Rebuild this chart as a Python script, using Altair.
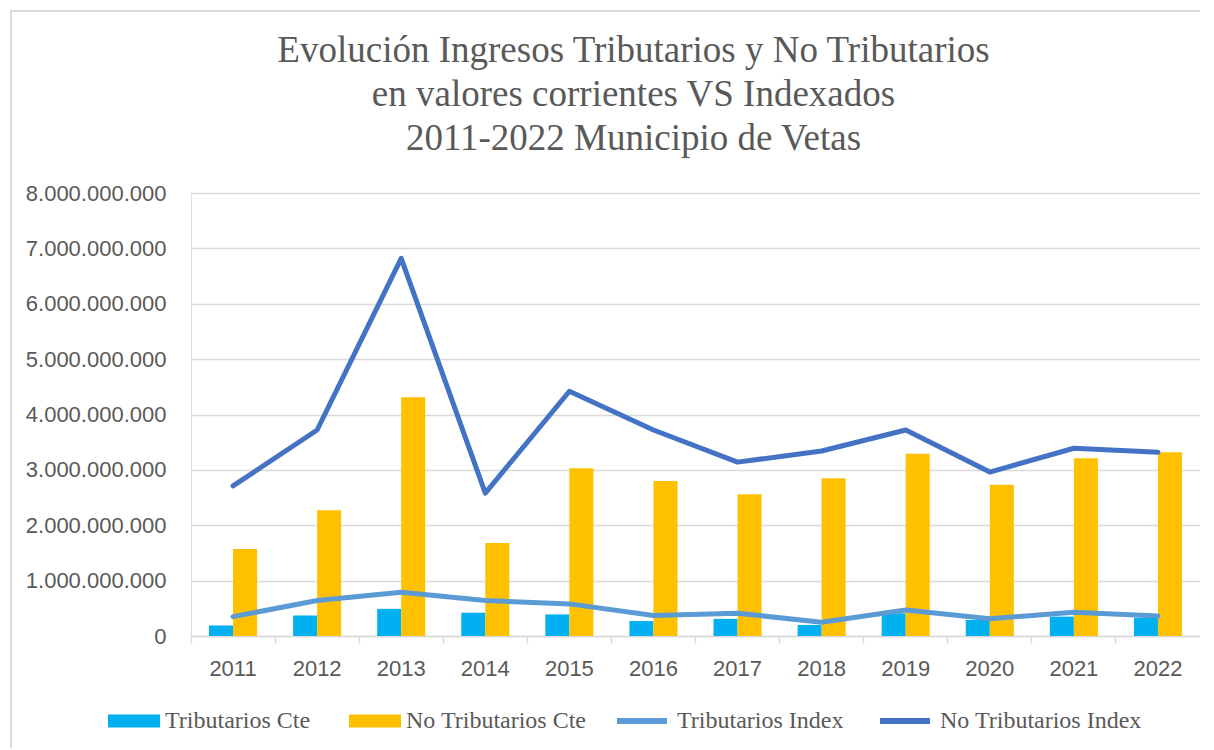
import altair as alt
import pandas as pd

years = ["2011", "2012", "2013", "2014", "2015", "2016", "2017", "2018", "2019", "2020", "2021", "2022"]

trib_cte = [0.19e9, 0.37e9, 0.49e9, 0.42e9, 0.39e9, 0.27e9, 0.31e9, 0.20e9, 0.41e9, 0.29e9, 0.35e9, 0.33e9]
no_trib_cte = [1.57e9, 2.27e9, 4.31e9, 1.68e9, 3.03e9, 2.80e9, 2.56e9, 2.85e9, 3.29e9, 2.73e9, 3.21e9, 3.32e9]
trib_index = [0.35e9, 0.64e9, 0.79e9, 0.64e9, 0.58e9, 0.37e9, 0.41e9, 0.25e9, 0.47e9, 0.31e9, 0.43e9, 0.36e9]
no_trib_index = [2.71e9, 3.72e9, 6.82e9, 2.58e9, 4.42e9, 3.72e9, 3.14e9, 3.34e9, 3.72e9, 2.96e9, 3.39e9, 3.32e9]

bar_series = ["Tributarios Cte", "No Tributarios Cte"]
line_series = ["Tributarios Index", "No Tributarios Index"]
bar_colors = ["#00B0F0", "#FFC000"]
line_colors = ["#5B9BD5", "#4472C4"]

bars_df = pd.DataFrame(
    [{"Año": y, "Serie": bar_series[0], "Valor": v} for y, v in zip(years, trib_cte)]
    + [{"Año": y, "Serie": bar_series[1], "Valor": v} for y, v in zip(years, no_trib_cte)]
)
lines_df = pd.DataFrame(
    [{"Año": y, "Serie": line_series[0], "Valor": v} for y, v in zip(years, trib_index)]
    + [{"Año": y, "Serie": line_series[1], "Valor": v} for y, v in zip(years, no_trib_index)]
)

GRAY = "#595959"
GRID = "#D9D9D9"
SANS = "Liberation Sans"
SERIF = "Liberation Serif"

x_scale = alt.Scale(domain=years, paddingInner=0, paddingOuter=0)
x_axis = alt.Axis(
    title=None, labelAngle=0, labelFont=SANS, labelFontSize=22, labelColor=GRAY,
    domainColor=GRID, domainWidth=1.5, tickColor=GRID, tickWidth=1.5, tickSize=7,
    bandPosition=0, labelPadding=15, grid=False,
)
y_scale = alt.Scale(domain=[0, 8e9], nice=False)
y_axis = alt.Axis(
    title=None, values=[0, 1e9, 2e9, 3e9, 4e9, 5e9, 6e9, 7e9, 8e9],
    labelExpr="replace(format(datum.value, ',d'), /,/g, '.')",
    labelFont=SANS, labelFontSize=22, labelColor=GRAY, labelPadding=25,
    ticks=False, domain=False, grid=True, gridColor=GRID, gridWidth=1.5,
)

frame = alt.Chart(pd.DataFrame({"k": [0]})).mark_rect(
    filled=False, stroke=GRID, strokeWidth=2
).encode(
    x=alt.value(-180), x2=alt.value(1100), y=alt.value(-182), y2=alt.value(700)
)

bars = alt.Chart(bars_df).mark_bar().encode(
    x=alt.X("Año:N", scale=x_scale, axis=x_axis),
    xOffset=alt.XOffset("Serie:N", scale=alt.Scale(domain=bar_series, paddingInner=0, paddingOuter=0.75)),
    y=alt.Y("Valor:Q", scale=y_scale, axis=y_axis),
    color=alt.Color(
        "Serie:N",
        scale=alt.Scale(domain=bar_series, range=bar_colors),
        legend=alt.Legend(
            orient="none", legendX=-83, legendY=502, direction="horizontal", title=None,
            symbolType="M-1,-0.25H1V0.25H-1Z", symbolSize=2704, symbolStrokeWidth=0,
            labelFont=SERIF, labelFontSize=24, labelColor=GRAY, labelLimit=400,
            labelOffset=5, columnPadding=38, padding=0,
        ),
    ),
)

lines = alt.Chart(lines_df).mark_line(strokeWidth=5, strokeCap="round", strokeJoin="round").encode(
    x=alt.X("Año:N", scale=x_scale, axis=x_axis),
    y=alt.Y("Valor:Q", scale=y_scale, axis=y_axis),
    stroke=alt.Stroke(
        "Serie:N",
        scale=alt.Scale(domain=line_series, range=line_colors),
        legend=alt.Legend(
            orient="none", legendX=423, legendY=500, direction="horizontal", title=None,
            symbolType="stroke", symbolSize=2500, symbolStrokeWidth=6,
            labelFont=SERIF, labelFontSize=24, labelColor=GRAY, labelLimit=400,
            labelOffset=7, columnPadding=24, padding=0,
        ),
    ),
)

chart = alt.layer(frame, bars, lines).properties(
    width=1009,
    height=443,
    autosize=alt.AutoSizeParams(type="none"),
    padding={"left": 183, "top": 185, "right": 0, "bottom": 112},
    title=alt.Title(
        ["Evolución Ingresos Tributarios y No Tributarios",
         "en valores corrientes VS Indexados",
         "2011-2022 Municipio de Vetas"],
        font=SERIF, fontSize=37, fontWeight="normal", color=GRAY,
        anchor="middle", frame="group", dx=-62, offset=-148, lineHeight=44,
    ),
).configure_view(stroke=None).configure(background="white")

chart.save("out.html", embed_options={"renderer": "svg", "actions": False})
